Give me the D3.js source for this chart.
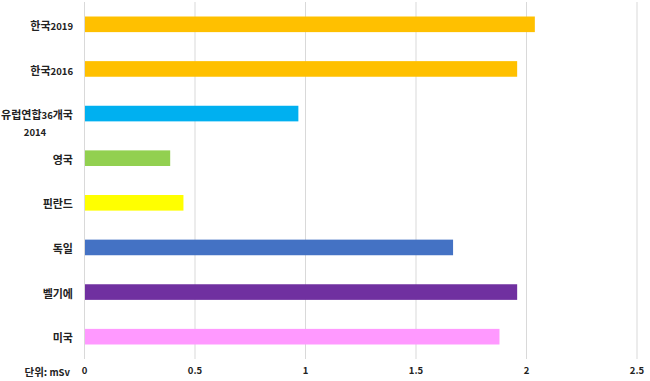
<!DOCTYPE html>
<html><head><meta charset="utf-8">
<script src="https://cdn.jsdelivr.net/npm/d3@7"></script>
<style>body{margin:0;background:#fff}svg{display:block}</style>
</head><body>
<script>
const categories = ["한국2019", "한국2016", "유럽연합36개국\n2014", "영국", "핀란드", "독일", "벨기에", "미국"];
const values = [2.04, 1.96, 0.97, 0.39, 0.45, 1.67, 1.96, 1.88];
const colors = ["#FFC000", "#FFC000", "#00B0F0", "#92D050", "#FFFF00", "#4472C4", "#7030A0", "#FF99FF"];
const tickValues = [0, 0.5, 1, 1.5, 2, 2.5];
const tickLabels = ["0", "0.5", "1", "1.5", "2", "2.5"];
const unitLabel = "단위: mSv";

const W = 650, H = 381;
const svg = d3.select("body").append("svg").attr("width", W).attr("height", H);
const x = d3.scaleLinear().domain([0, 2.5]).range([84, 636.5]);
const y = d3.scaleBand().domain(categories).range([2, 359]).paddingInner(0.65).paddingOuter(0.325);

const font = "'Malgun Gothic','Noto Sans CJK KR',sans-serif";
const fill = "#222";

// grid
svg.append("g").selectAll("line").data(tickValues).join("line")
  .attr("x1", d => x(d) + 0.5).attr("x2", d => x(d) + 0.5)
  .attr("y1", 2).attr("y2", 359)
  .attr("stroke", "#d9d9d9").attr("stroke-width", 1);

// bars
svg.append("g").selectAll("rect").data(categories).join("rect")
  .attr("x", x(0) + 1).attr("y", d => y(d))
  .attr("width", (d, i) => x(values[i]) - x(0) - 1)
  .attr("height", y.bandwidth())
  .attr("fill", (d, i) => colors[i]);

// x axis labels
const xAxis = d3.axisBottom(x).tickValues(tickValues).tickFormat((d, i) => tickLabels[i]).tickSize(0).tickPadding(0);
const gx = svg.append("g").attr("transform", "translate(0,367)").call(xAxis);
gx.select(".domain").remove();
gx.selectAll("text").attr("font-family", font).attr("font-size", 9.5).attr("font-weight", "bold").attr("fill", fill).attr("dy", "0.75em");

const unit = svg.append("text").attr("x", 70).attr("y", 375.5).attr("text-anchor", "end")
  .attr("font-family", font).attr("font-weight", "bold").attr("fill", fill);
unit.append("tspan").attr("font-size", 10.5).text(unitLabel.slice(0, 3));
unit.append("tspan").attr("font-size", 9.5).text(unitLabel.slice(3));

// y labels: Korean parts larger, digits smaller
function addLabel(g, str, xPos, yPos, anchor) {
  const t = g.append("text").attr("x", xPos).attr("y", yPos).attr("dy", "0.35em").attr("text-anchor", anchor)
    .attr("font-family", font).attr("font-weight", "bold").attr("fill", fill);
  const parts = str.match(/(\d+|\D+)/g);
  parts.forEach(p => {
    t.append("tspan").attr("font-size", /\d/.test(p) ? 9.5 : 11).text(p);
  });
}
const gy = svg.append("g");
categories.forEach((c) => {
  const lines = c.split("\n");
  const cy = y(c) + y.bandwidth() / 2;
  if (lines.length === 1) {
    addLabel(gy, lines[0], 73, cy, "end");
  } else {
    addLabel(gy, lines[0], 73, cy, "end");
    addLabel(gy, lines[1], 35, cy + 17, "middle");
  }
});
</script>
</body></html>
